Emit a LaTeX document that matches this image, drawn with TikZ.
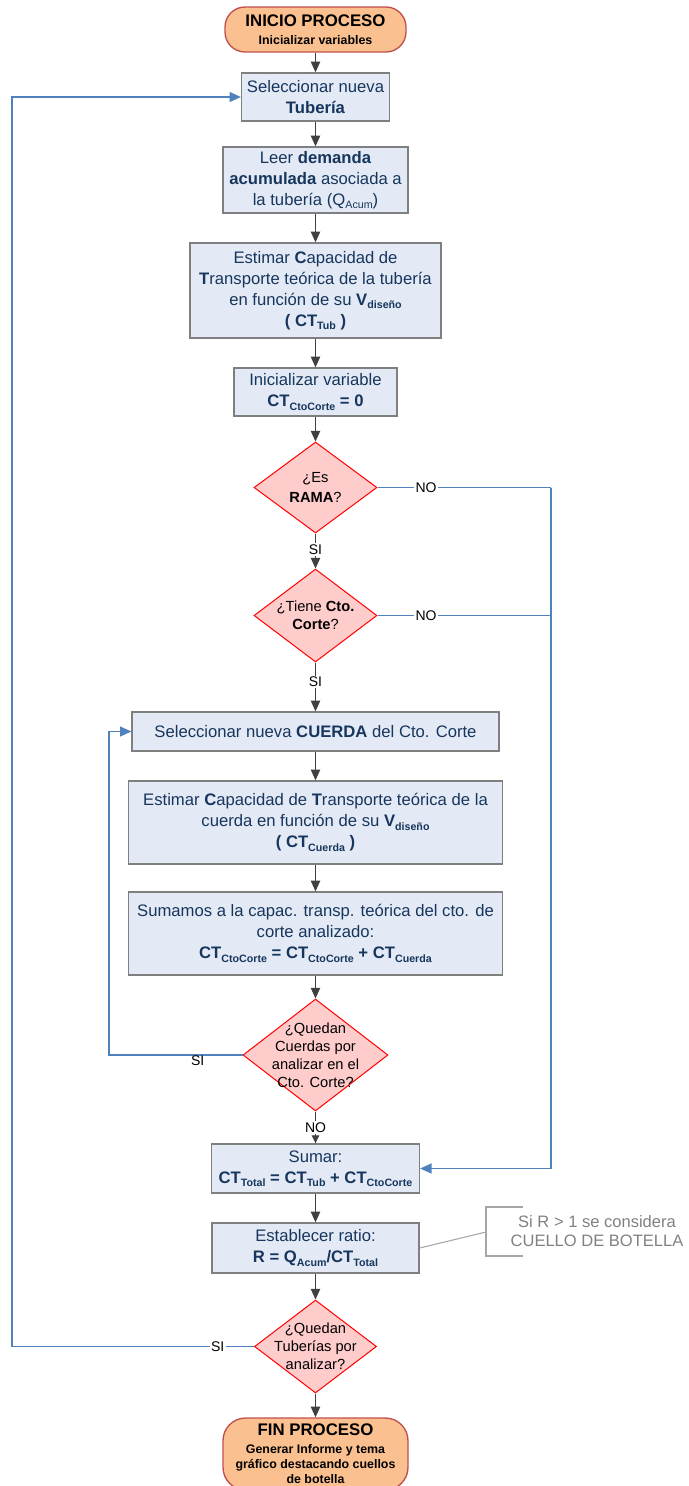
\documentclass[tikz,border=0pt]{standalone}
\usepackage{fontspec}
\setmainfont{Liberation Sans}
\usetikzlibrary{shapes.geometric,arrows.meta}

\definecolor{boxfill}{HTML}{E3EAF5}
\definecolor{boxline}{HTML}{7F7F7F}
\definecolor{navy}{HTML}{17365D}
\definecolor{dfill}{HTML}{FFCCCC}
\definecolor{dline}{HTML}{FF0000}
\definecolor{tfill}{HTML}{FAC090}
\definecolor{tline}{HTML}{C0504D}
\definecolor{flow}{HTML}{404040}
\definecolor{loopblue}{HTML}{4F81BD}
\definecolor{notetext}{HTML}{808080}
\definecolor{noteline}{HTML}{A6A6A6}

% small lowered index text
\newcommand\sbs[1]{\raisebox{-0.4ex}{\fontsize{8}{9}\selectfont #1}}

\tikzset{
  procbox/.style={draw=boxline, line width=1pt, fill=boxfill, text=navy,
    align=center, inner sep=0pt, font=\fontsize{12.5}{15.75}\selectfont},
  decision/.style={diamond, draw=dline, line width=0.75pt, fill=dfill, inner sep=0pt},
  dtext/.style={align=center, inner sep=0pt, font=\fontsize{11}{13.5}\selectfont},
  terminal/.style={draw=tline, line width=1pt, fill=tfill, align=center, inner sep=0pt},
  flowarr/.style={draw=flow, line width=0.9pt, -{Triangle[length=8pt,width=7pt]}},
  smallarr/.style={draw=flow, line width=0.9pt, -{Triangle[length=6pt,width=5.5pt]}},
  loopline/.style={draw=loopblue, line width=1pt},
  looparr/.style={draw=loopblue, line width=1pt, -{Triangle[length=8.5pt,width=7.5pt]}},
  lbl/.style={font=\fontsize{10.5}{12}\selectfont, inner sep=1pt, fill=white},
  noteln/.style={draw=noteline, line width=0.8pt}
}

\begin{document}
\begin{tikzpicture}[x=0.75pt,y=-0.75pt]
\useasboundingbox (0,0) rectangle (689,1486);

% start / end terminals
\node[terminal, rounded corners=15pt, minimum width=135.75pt, minimum height=33.75pt,
      font=\fontsize{9.3}{13.5}\selectfont\bfseries] (start) at (315.5,29.5)
  {{\fontsize{12.6}{13.5}\selectfont INICIO PROCESO}\\Inicializar variables};

% process boxes
\node[procbox, minimum width=111pt, minimum height=36pt] (b1) at (315.5,97)
  {Seleccionar nueva\\\textbf{Tubería}};
\node[procbox, minimum width=138.75pt, minimum height=49.5pt] (b2) at (315.5,180)
  {Leer \textbf{demanda}\\\textbf{acumulada} asociada a\\la tubería (Q\sbs{Acum})};
\node[procbox, minimum width=188.25pt, minimum height=71.25pt] (b3) at (315.5,290.5)
  {Estimar \textbf{C}apacidad de\\\textbf{T}ransporte teórica de la tubería\\en función de su \textbf{V\sbs{diseño}}\\\textbf{( CT\sbs{Tub} )}};
\node[procbox, minimum width=122.25pt, minimum height=36pt] (b4) at (315.5,392)
  {Inicializar variable\\\textbf{CT\sbs{CtoCorte} = 0}};

% decisions on the pipe
\node[decision, minimum width=92.25pt, minimum height=68.25pt,
      label={[dtext, font=\fontsize{11}{15}\selectfont]center:{¿Es\\\textbf{RAMA}?}}] (d1) at (315.5,487.5) {};
\node[decision, minimum width=92.25pt, minimum height=69.75pt,
      label={[dtext]center:{¿Tiene \textbf{Cto.}\\\textbf{Corte}?}}] (d2) at (315.5,615.5) {};

% chord loop
\node[procbox, minimum width=275.25pt, minimum height=29.25pt] (b5) at (315.5,731.5)
  {Seleccionar nueva \textbf{CUERDA} del Cto. Corte};
\node[procbox, minimum width=280.5pt, minimum height=62.25pt] (b6) at (315.5,822.5)
  {Estimar \textbf{C}apacidad de \textbf{T}ransporte teórica de la\\cuerda en función de su \textbf{V\sbs{diseño}}\\\textbf{( CT\sbs{Cuerda} )}};
\node[procbox, minimum width=280.5pt, minimum height=62.25pt] (b7) at (315.5,933.5)
  {Sumamos a la capac. transp. teórica del cto. de\\corte analizado:\\\textbf{CT\sbs{CtoCorte} = CT\sbs{CtoCorte} + CT\sbs{Cuerda}}};
\node[decision, minimum width=108.75pt, minimum height=84pt,
      label={[dtext]center:{¿Quedan\\Cuerdas por\\analizar en el\\Cto. Corte?}}] (d3) at (315.5,1055) {};

% totals and ratio
\node[procbox, minimum width=156pt, minimum height=36.75pt] (b8) at (315.5,1168.5)
  {Sumar:\\\textbf{CT\sbs{Total} = CT\sbs{Tub} + CT\sbs{CtoCorte}}};
\node[procbox, minimum width=155.25pt, minimum height=37.5pt] (b9) at (315.5,1248)
  {Establecer ratio:\\\textbf{R = Q\sbs{Acum}/CT\sbs{Total}}};
\node[decision, minimum width=91.5pt, minimum height=69.75pt,
      label={[dtext]center:{¿Quedan\\Tuberías por\\analizar?}}] (d4) at (315.5,1346.5) {};

\node[terminal, rounded corners=17pt, minimum width=138.75pt, minimum height=54pt,
      font=\fontsize{9.3}{11.25}\selectfont\bfseries] (fin) at (315.5,1454)
  {{\fontsize{12.6}{13.5}\selectfont FIN PROCESO}\\[2.25pt]Generar Informe y tema\\gráfico destacando cuellos\\de botella};

% annotation
\node[font=\fontsize{12.4}{14.25}\selectfont, text=notetext, align=center, inner sep=0pt]
  (note) at (597,1231.5) {Si R > 1 se considera\\CUELLO DE BOTELLA};
\coordinate (nt) at (486,1207);
\coordinate (nm) at (486,1232);
\coordinate (nb) at (486,1256);
\draw[noteln] (523,1207) -- (nt) -- (nb) -- (523,1256);
\draw[noteln] (b9.east) -- (nm);

% main flow
\draw[flowarr] (start.south) -- (b1.north);
\draw[flowarr] (b1.south) -- (b2.north);
\draw[flowarr] (b2.south) -- (b3.north);
\draw[flowarr] (b3.south) -- (b4.north);
\draw[flowarr] (b4.south) -- (d1.north);
\draw[flowarr] (d1.south) -- node[lbl, pos=0.45]{SI} (d2.north);
\draw[flowarr] (d2.south) -- node[lbl, pos=0.4]{SI} (b5.north);
\draw[flowarr] (b5.south) -- (b6.north);
\draw[flowarr] (b6.south) -- (b7.north);
\draw[flowarr] (b7.south) -- (d3.north);
\draw[smallarr] (d3.south) -- node[lbl, pos=0.5]{NO} (b8.north);
\draw[flowarr] (b8.south) -- (b9.north);
\draw[flowarr] (b9.south) -- (d4.north);
\draw[flowarr] (d4.south) -- (fin.north);

% NO branches to the sum
\coordinate (rj) at (551,487.5);
\draw[loopline] (d1.east) -- node[lbl, pos=0.28]{NO} (rj);
\draw[loopline] (d2.east) -- node[lbl, pos=0.28]{NO} (d2.east -| rj);
\draw[looparr] (rj) |- (b8.east);

% back to a new chord
\coordinate (lj) at (109,1055);
\draw[looparr] (d3.west) -- node[font=\fontsize{10.5}{12}\selectfont, inner sep=0pt, pos=0.336, yshift=-4pt]{SI} (lj) |- (b5.west);

% back to a new pipe
\coordinate (lk) at (12,1346.5);
\draw[looparr] (d4.west) -- node[lbl, pos=0.15]{SI} (lk) |- (b1.west);

\end{tikzpicture}
\end{document}
